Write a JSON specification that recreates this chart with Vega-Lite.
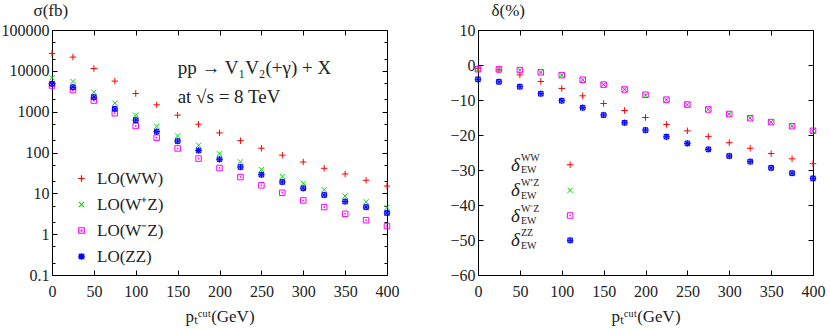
{
  "$schema": "https://vega.github.io/schema/vega-lite/v6.json",
  "background": "white",
  "padding": {"left": 0, "top": 0, "right": 5, "bottom": 5},
  "bounds": "flush",
  "spacing": 91,
  "config": {
    "view": {"stroke": "#000", "strokeWidth": 1},
    "font": "Liberation Serif",
    "axis": {
      "domain": false, "grid": false, "tickColor": "#000", "tickSize": -5, "tickWidth": 1, "labelFlush": false, "labelOverlap": false,
      "labelFont": "Liberation Serif", "labelFontSize": 16, "labelColor": "#222",
      "titleFont": "Liberation Serif", "titleFontSize": 17, "titleFontWeight": "normal", "titleColor": "#222"
    },
    "text": {"font": "Liberation Serif", "color": "#222"}
  },
  "datasets": {
    "sigma": [
      {"pt":0,"series":"WW","v":26700},{"pt":25,"series":"WW","v":21700},{"pt":50,"series":"WW","v":11400},{"pt":75,"series":"WW","v":5600},{"pt":100,"series":"WW","v":2780},{"pt":125,"series":"WW","v":1470},{"pt":150,"series":"WW","v":820},{"pt":175,"series":"WW","v":493},{"pt":200,"series":"WW","v":302},{"pt":225,"series":"WW","v":195},{"pt":250,"series":"WW","v":127},{"pt":275,"series":"WW","v":86},{"pt":300,"series":"WW","v":58.6},{"pt":325,"series":"WW","v":41},{"pt":350,"series":"WW","v":29.8},{"pt":375,"series":"WW","v":20.9},{"pt":400,"series":"WW","v":15.1},
      {"pt":0,"series":"W+Z","v":6760},{"pt":25,"series":"W+Z","v":5490},{"pt":50,"series":"W+Z","v":3000},{"pt":75,"series":"W+Z","v":1620},{"pt":100,"series":"W+Z","v":820},{"pt":125,"series":"W+Z","v":440},{"pt":150,"series":"W+Z","v":255},{"pt":175,"series":"W+Z","v":151},{"pt":200,"series":"W+Z","v":93},{"pt":225,"series":"W+Z","v":59},{"pt":250,"series":"W+Z","v":38},{"pt":275,"series":"W+Z","v":26},{"pt":300,"series":"W+Z","v":17.6},{"pt":325,"series":"W+Z","v":12.3},{"pt":350,"series":"W+Z","v":8.6},{"pt":375,"series":"W+Z","v":6.2},{"pt":400,"series":"W+Z","v":4.5},
      {"pt":0,"series":"W-Z","v":4370},{"pt":25,"series":"W-Z","v":3370},{"pt":50,"series":"W-Z","v":1870},{"pt":75,"series":"W-Z","v":918},{"pt":100,"series":"W-Z","v":447},{"pt":125,"series":"W-Z","v":231},{"pt":150,"series":"W-Z","v":126},{"pt":175,"series":"W-Z","v":71},{"pt":200,"series":"W-Z","v":41.7},{"pt":225,"series":"W-Z","v":25},{"pt":250,"series":"W-Z","v":15.7},{"pt":275,"series":"W-Z","v":10.3},{"pt":300,"series":"W-Z","v":6.7},{"pt":325,"series":"W-Z","v":4.6},{"pt":350,"series":"W-Z","v":3.15},{"pt":375,"series":"W-Z","v":2.2},{"pt":400,"series":"W-Z","v":1.58},
      {"pt":0,"series":"ZZ","v":4810},{"pt":25,"series":"ZZ","v":3980},{"pt":50,"series":"ZZ","v":2270},{"pt":75,"series":"ZZ","v":1170},{"pt":100,"series":"ZZ","v":620},{"pt":125,"series":"ZZ","v":325},{"pt":150,"series":"ZZ","v":190},{"pt":175,"series":"ZZ","v":112},{"pt":200,"series":"ZZ","v":68},{"pt":225,"series":"ZZ","v":44},{"pt":250,"series":"ZZ","v":28.6},{"pt":275,"series":"ZZ","v":19},{"pt":300,"series":"ZZ","v":13.3},{"pt":325,"series":"ZZ","v":9.1},{"pt":350,"series":"ZZ","v":6.3},{"pt":375,"series":"ZZ","v":4.6},{"pt":400,"series":"ZZ","v":3.3}
    ],
    "delta": [
      {"pt":0,"series":"WW","v":-1.0},{"pt":25,"series":"WW","v":-1.4},{"pt":50,"series":"WW","v":-2.85},{"pt":75,"series":"WW","v":-4.7},{"pt":100,"series":"WW","v":-6.7},{"pt":125,"series":"WW","v":-8.8},{"pt":150,"series":"WW","v":-11.0},{"pt":175,"series":"WW","v":-13.0},{"pt":200,"series":"WW","v":-15.0},{"pt":225,"series":"WW","v":-17.0},{"pt":250,"series":"WW","v":-18.8},{"pt":275,"series":"WW","v":-20.4},{"pt":300,"series":"WW","v":-22.2},{"pt":325,"series":"WW","v":-23.8},{"pt":350,"series":"WW","v":-25.3},{"pt":375,"series":"WW","v":-26.8},{"pt":400,"series":"WW","v":-28.2},
      {"pt":0,"series":"W+Z","v":-1.25},{"pt":25,"series":"W+Z","v":-1.25},{"pt":50,"series":"W+Z","v":-1.5},{"pt":75,"series":"W+Z","v":-2.1},{"pt":100,"series":"W+Z","v":-2.95},{"pt":125,"series":"W+Z","v":-4.2},{"pt":150,"series":"W+Z","v":-5.6},{"pt":175,"series":"W+Z","v":-7.0},{"pt":200,"series":"W+Z","v":-8.6},{"pt":225,"series":"W+Z","v":-9.95},{"pt":250,"series":"W+Z","v":-11.3},{"pt":275,"series":"W+Z","v":-12.7},{"pt":300,"series":"W+Z","v":-14.0},{"pt":325,"series":"W+Z","v":-15.2},{"pt":350,"series":"W+Z","v":-16.3},{"pt":375,"series":"W+Z","v":-17.5},{"pt":400,"series":"W+Z","v":-18.8},
      {"pt":0,"series":"W-Z","v":-1.2},{"pt":25,"series":"W-Z","v":-1.25},{"pt":50,"series":"W-Z","v":-1.45},{"pt":75,"series":"W-Z","v":-2.1},{"pt":100,"series":"W-Z","v":-2.9},{"pt":125,"series":"W-Z","v":-4.2},{"pt":150,"series":"W-Z","v":-5.6},{"pt":175,"series":"W-Z","v":-7.0},{"pt":200,"series":"W-Z","v":-8.5},{"pt":225,"series":"W-Z","v":-9.9},{"pt":250,"series":"W-Z","v":-11.3},{"pt":275,"series":"W-Z","v":-12.7},{"pt":300,"series":"W-Z","v":-14.0},{"pt":325,"series":"W-Z","v":-15.2},{"pt":350,"series":"W-Z","v":-16.3},{"pt":375,"series":"W-Z","v":-17.5},{"pt":400,"series":"W-Z","v":-18.8},
      {"pt":0,"series":"ZZ","v":-4.1},{"pt":25,"series":"ZZ","v":-4.8},{"pt":50,"series":"ZZ","v":-6.2},{"pt":75,"series":"ZZ","v":-8.2},{"pt":100,"series":"ZZ","v":-10.2},{"pt":125,"series":"ZZ","v":-12.2},{"pt":150,"series":"ZZ","v":-14.3},{"pt":175,"series":"ZZ","v":-16.5},{"pt":200,"series":"ZZ","v":-18.6},{"pt":225,"series":"ZZ","v":-20.5},{"pt":250,"series":"ZZ","v":-22.4},{"pt":275,"series":"ZZ","v":-24.1},{"pt":300,"series":"ZZ","v":-26.0},{"pt":325,"series":"ZZ","v":-27.6},{"pt":350,"series":"ZZ","v":-29.4},{"pt":375,"series":"ZZ","v":-30.9},{"pt":400,"series":"ZZ","v":-32.4}
    ],
    "notes": [
      {"line": 1, "label": "pp → V₁V₂(+γ) + X"},
      {"line": 2, "label": "at √s = 8 TeV"}
    ],
    "ewlegend": [
      {"series": "WW", "sup": "WW", "sub": "EW", "sym": "δ"},
      {"series": "W+Z", "sup": "W⁺Z", "sub": "EW", "sym": "δ"},
      {"series": "W-Z", "sup": "W⁻Z", "sub": "EW", "sym": "δ"},
      {"series": "ZZ", "sup": "ZZ", "sub": "EW", "sym": "δ"}
    ],
    "one": [{"k": 1}]
  },
  "resolve": {"scale": {"color": "independent", "shape": "independent"}},
  "hconcat": [
    {
      "width": 335, "height": 245,
      "resolve": {"axis": {"x": "independent", "y": "independent"}},
      "layer": [
        {
          "data": {"name": "sigma"},
          "mark": {"type": "point", "filled": false, "size": 42, "strokeWidth": 1, "opacity": 1},
          "encoding": {
            "x": {"field": "pt", "type": "quantitative", "scale": {"domain": [0, 400], "nice": false},
              "axis": {"orient": "bottom", "values": [0,50,100,150,200,250,300,350,400], "labelPadding": 13, "title": "pₜᶜᵘᵗ(GeV)", "titlePadding": 9}},
            "y": {"field": "v", "type": "quantitative", "scale": {"type": "log", "domain": [0.1, 100000], "nice": false},
              "axis": {"orient": "left", "values": [0.1,1,10,100,1000,10000,100000], "format": "~g", "labelPadding": 8,
                "title": "σ(fb)", "titleAngle": 0, "titleAlign": "left", "titleBaseline": "middle", "titleX": -19, "titleY": -20}},
            "color": {"field": "series", "type": "nominal",
              "scale": {"domain": ["WW","W+Z","W-Z","ZZ"], "range": ["#ff0000","#00dd00","#ff00ff","#0000ff"]},
              "legend": {"orient": "none", "legendX": 21, "legendY": 140, "padding": 0, "rowPadding": 8, "title": null,
                "labelFont": "Liberation Serif", "labelFontSize": 17, "labelColor": "#222", "labelOffset": 7, "symbolSize": 42, "symbolStrokeWidth": 1.2, "symbolOpacity": 1,
                "labelExpr": "{'WW':'LO(WW)','W+Z':'LO(W⁺Z)','W-Z':'LO(W⁻Z)','ZZ':'LO(ZZ)'}[datum.label]"}},
            "shape": {"field": "series", "type": "nominal",
              "scale": {"domain": ["WW","W+Z","W-Z","ZZ"], "range": [
                "M-1,0L1,0M0,-1L0,1",
                "M-0.8,-0.8L0.8,0.8M-0.8,0.8L0.8,-0.8",
                "M-0.85,-0.85L0.85,-0.85L0.85,0.85L-0.85,0.85ZM-0.12,-0.12L0.12,-0.12L0.12,0.12L-0.12,0.12Z",
                "M-0.7,-0.7L0.7,-0.7L0.7,0.7L-0.7,0.7ZM-1,0L1,0M0,-1L0,1M-0.7,-0.7L0.7,0.7M-0.7,0.7L0.7,-0.7"
              ]},
              "legend": null}
          }
        },
        {
          "data": {"name": "notes"},
          "transform": [{"filter": "datum.line == 1"}],
          "mark": {"type": "text", "align": "left", "baseline": "middle", "fontSize": 19},
          "encoding": {
            "x": {"datum": 150, "type": "quantitative", "scale": {"domain": [0, 400], "nice": false},
              "axis": {"orient": "top", "values": [0,50,100,150,200,250,300,350,400], "labels": false, "title": null}},
            "y": {"datum": 11900, "type": "quantitative", "scale": {"type": "log", "domain": [0.1, 100000], "nice": false},
              "axis": {"orient": "right", "values": [0.1,1,10,100,1000,10000,100000], "labels": false, "title": null}},
            "text": {"field": "label"}
          }
        },
        {
          "data": {"name": "notes"},
          "transform": [{"filter": "datum.line == 2"}],
          "mark": {"type": "text", "align": "left", "baseline": "middle", "fontSize": 19},
          "encoding": {
            "x": {"datum": 150, "type": "quantitative", "scale": {"domain": [0, 400], "nice": false}, "axis": null},
            "y": {"datum": 2300, "type": "quantitative", "scale": {"type": "log", "domain": [0.1, 100000], "nice": false},
              "axis": {"orient": "left", "values": [0.2,0.5,2,5,20,50,200,500,2000,5000,20000,50000], "labels": false, "title": null, "tickSize": -3}},
            "text": {"field": "label"}
          }
        },
        {
          "data": {"name": "one"},
          "mark": {"type": "point", "opacity": 0},
          "encoding": {
            "x": {"datum": 0, "type": "quantitative", "scale": {"domain": [0, 400], "nice": false}, "axis": null},
            "y": {"datum": 1, "type": "quantitative", "scale": {"type": "log", "domain": [0.1, 100000], "nice": false},
              "axis": {"orient": "right", "values": [0.2,0.5,2,5,20,50,200,500,2000,5000,20000,50000], "labels": false, "title": null, "tickSize": -3}}
          }
        }
      ]
    },
    {
      "width": 335, "height": 245,
      "resolve": {"axis": {"x": "independent", "y": "independent"}},
      "layer": [
        {
          "data": {"name": "delta"},
          "mark": {"type": "point", "filled": false, "size": 42, "strokeWidth": 1, "opacity": 1},
          "encoding": {
            "x": {"field": "pt", "type": "quantitative", "scale": {"domain": [0, 400], "nice": false},
              "axis": {"orient": "bottom", "values": [0,50,100,150,200,250,300,350,400], "labelPadding": 13, "title": "pₜᶜᵘᵗ(GeV)", "titlePadding": 9}},
            "y": {"field": "v", "type": "quantitative", "scale": {"domain": [-60, 10], "nice": false},
              "axis": {"orient": "left", "values": [-60,-50,-40,-30,-20,-10,0,10], "labelPadding": 8,
                "title": "δ(%)", "titleAngle": 0, "titleAlign": "left", "titleBaseline": "middle", "titleX": 13, "titleY": -20}},
            "color": {"field": "series", "type": "nominal",
              "scale": {"domain": ["WW","W+Z","W-Z","ZZ"], "range": ["#ff0000","#00dd00","#ff00ff","#0000ff"]}, "legend": null},
            "shape": {"field": "series", "type": "nominal",
              "scale": {"domain": ["WW","W+Z","W-Z","ZZ"], "range": [
                "M-1,0L1,0M0,-1L0,1",
                "M-0.8,-0.8L0.8,0.8M-0.8,0.8L0.8,-0.8",
                "M-0.85,-0.85L0.85,-0.85L0.85,0.85L-0.85,0.85ZM-0.12,-0.12L0.12,-0.12L0.12,0.12L-0.12,0.12Z",
                "M-0.7,-0.7L0.7,-0.7L0.7,0.7L-0.7,0.7ZM-1,0L1,0M0,-1L0,1M-0.7,-0.7L0.7,0.7M-0.7,0.7L0.7,-0.7"
              ]}, "legend": null}
          }
        },
        {
          "data": {"name": "one"},
          "mark": {"type": "point", "opacity": 0},
          "encoding": {
            "x": {"datum": 0, "type": "quantitative", "scale": {"domain": [0, 400], "nice": false},
              "axis": {"orient": "top", "values": [0,50,100,150,200,250,300,350,400], "labels": false, "title": null}},
            "y": {"datum": 0, "type": "quantitative", "scale": {"domain": [-60, 10], "nice": false},
              "axis": {"orient": "right", "values": [-60,-50,-40,-30,-20,-10,0,10], "labels": false, "title": null}}
          }
        },
        {"transform": [{"filter": "datum.series == 'WW'"}], "encoding": {"y": {"datum": -28.5, "type": "quantitative", "axis": null}},
         "data": {"name": "ewlegend"},
         "layer": [
          {"mark": {"type": "point", "filled": false, "size": 42, "strokeWidth": 1, "opacity": 1},
           "encoding": {"x": {"datum": 110, "type": "quantitative", "axis": null}, "color": {"field": "series", "type": "nominal", "legend": null}, "shape": {"field": "series", "type": "nominal", "legend": null}}},
          {"mark": {"type": "text", "align": "right", "baseline": "middle", "fontSize": 19, "fontStyle": "italic"},
           "encoding": {"x": {"datum": 50, "type": "quantitative", "axis": null}, "text": {"field": "sym"}}},
          {"mark": {"type": "text", "align": "left", "baseline": "middle", "fontSize": 10, "dx": 1, "dy": -7},
           "encoding": {"x": {"datum": 50, "type": "quantitative", "axis": null}, "text": {"field": "sup"}}},
          {"mark": {"type": "text", "align": "left", "baseline": "middle", "fontSize": 10, "dx": 1, "dy": 5.5},
           "encoding": {"x": {"datum": 50, "type": "quantitative", "axis": null}, "text": {"field": "sub"}}}
        ]},
        {"transform": [{"filter": "datum.series == 'W+Z'"}], "encoding": {"y": {"datum": -35.8, "type": "quantitative", "axis": null}},
         "data": {"name": "ewlegend"},
         "layer": [
          {"mark": {"type": "point", "filled": false, "size": 42, "strokeWidth": 1, "opacity": 1},
           "encoding": {"x": {"datum": 110, "type": "quantitative", "axis": null}, "color": {"field": "series", "type": "nominal", "legend": null}, "shape": {"field": "series", "type": "nominal", "legend": null}}},
          {"mark": {"type": "text", "align": "right", "baseline": "middle", "fontSize": 19, "fontStyle": "italic"},
           "encoding": {"x": {"datum": 50, "type": "quantitative", "axis": null}, "text": {"field": "sym"}}},
          {"mark": {"type": "text", "align": "left", "baseline": "middle", "fontSize": 10, "dx": 1, "dy": -7},
           "encoding": {"x": {"datum": 50, "type": "quantitative", "axis": null}, "text": {"field": "sup"}}},
          {"mark": {"type": "text", "align": "left", "baseline": "middle", "fontSize": 10, "dx": 1, "dy": 5.5},
           "encoding": {"x": {"datum": 50, "type": "quantitative", "axis": null}, "text": {"field": "sub"}}}
        ]},
        {"transform": [{"filter": "datum.series == 'W-Z'"}], "encoding": {"y": {"datum": -43.0, "type": "quantitative", "axis": null}},
         "data": {"name": "ewlegend"},
         "layer": [
          {"mark": {"type": "point", "filled": false, "size": 42, "strokeWidth": 1, "opacity": 1},
           "encoding": {"x": {"datum": 110, "type": "quantitative", "axis": null}, "color": {"field": "series", "type": "nominal", "legend": null}, "shape": {"field": "series", "type": "nominal", "legend": null}}},
          {"mark": {"type": "text", "align": "right", "baseline": "middle", "fontSize": 19, "fontStyle": "italic"},
           "encoding": {"x": {"datum": 50, "type": "quantitative", "axis": null}, "text": {"field": "sym"}}},
          {"mark": {"type": "text", "align": "left", "baseline": "middle", "fontSize": 10, "dx": 1, "dy": -7},
           "encoding": {"x": {"datum": 50, "type": "quantitative", "axis": null}, "text": {"field": "sup"}}},
          {"mark": {"type": "text", "align": "left", "baseline": "middle", "fontSize": 10, "dx": 1, "dy": 5.5},
           "encoding": {"x": {"datum": 50, "type": "quantitative", "axis": null}, "text": {"field": "sub"}}}
        ]},
        {"transform": [{"filter": "datum.series == 'ZZ'"}], "encoding": {"y": {"datum": -50.1, "type": "quantitative", "axis": null}},
         "data": {"name": "ewlegend"},
         "layer": [
          {"mark": {"type": "point", "filled": false, "size": 42, "strokeWidth": 1, "opacity": 1},
           "encoding": {"x": {"datum": 110, "type": "quantitative", "axis": null}, "color": {"field": "series", "type": "nominal", "legend": null}, "shape": {"field": "series", "type": "nominal", "legend": null}}},
          {"mark": {"type": "text", "align": "right", "baseline": "middle", "fontSize": 19, "fontStyle": "italic"},
           "encoding": {"x": {"datum": 50, "type": "quantitative", "axis": null}, "text": {"field": "sym"}}},
          {"mark": {"type": "text", "align": "left", "baseline": "middle", "fontSize": 10, "dx": 1, "dy": -7},
           "encoding": {"x": {"datum": 50, "type": "quantitative", "axis": null}, "text": {"field": "sup"}}},
          {"mark": {"type": "text", "align": "left", "baseline": "middle", "fontSize": 10, "dx": 1, "dy": 5.5},
           "encoding": {"x": {"datum": 50, "type": "quantitative", "axis": null}, "text": {"field": "sub"}}}
        ]}
      ]
    }
  ]
}
